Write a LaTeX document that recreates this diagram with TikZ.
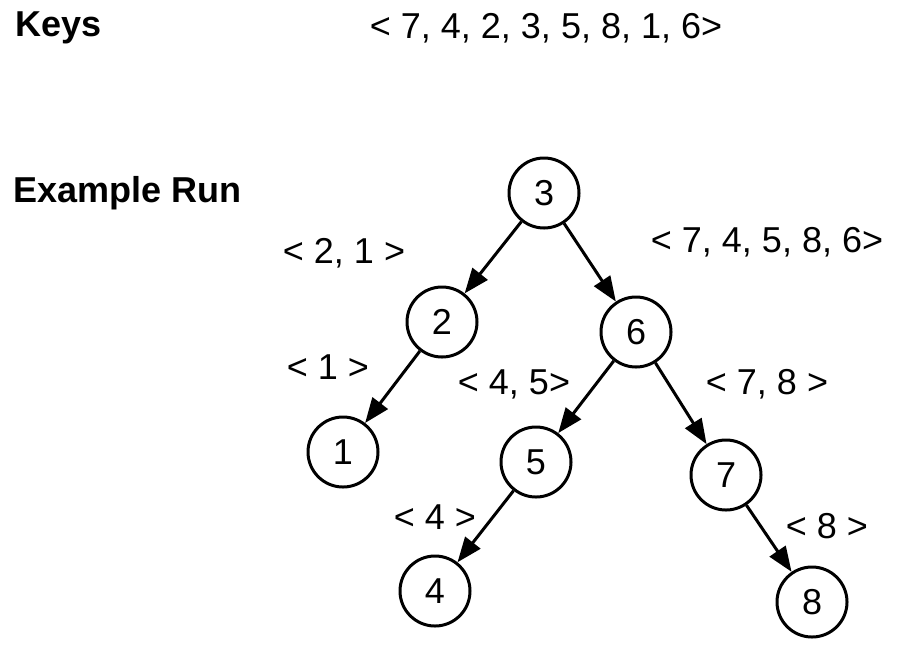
\documentclass[tikz,border=0pt]{standalone}
\usepackage{fontspec}
\setmainfont{Liberation Sans}
\usepackage{tikz}
\usetikzlibrary{arrows.meta,positioning}
\tikzset{
  keynode/.style={circle, draw, line width=1.5pt, minimum size=35pt, inner sep=0pt, font=\fontsize{18}{21}\selectfont},
  sublist/.style={inner sep=0pt, font=\fontsize{18}{21}\selectfont},
  heading/.style={inner sep=0pt, anchor=west, font=\fontsize{18}{21}\selectfont\bfseries},
  link/.style={-{Triangle[length=12.5pt, width=9.5pt]}, line width=1.5pt}
}

\begin{document}
\begin{tikzpicture}[x=0.5pt, y=-0.5pt]
        \useasboundingbox (0,0) rectangle (898,644);

        % headings and input
        \node[heading] (keys) at (15,28) {Keys};
        \node[sublist] (input) at (546,28) {< 7, 4, 2, 3, 5, 8, 1, 6>};
        \node[heading] (run) at (13,193) {Example Run};

        % tree
        \node[keynode] (n3) at (544,193) {3};
        \node[keynode] (n2) at (442,322) {2};
        \node[keynode] (n6) at (636,332) {6};
        \node[keynode] (n1) at (343,452) {1};
        \node[keynode] (n5) at (536,462) {5};
        \node[keynode] (n7) at (726,475) {7};
        \node[keynode] (n4) at (435,591) {4};
        \node[keynode] (n8) at (812,602) {8};

        \draw[link] (n3) -- (n2);
        \draw[link] (n3) -- (n6);
        \draw[link] (n2) -- (n1);
        \draw[link] (n6) -- (n5);
        \draw[link] (n6) -- (n7);
        \draw[link] (n5) -- (n4);
        \draw[link] (n7) -- (n8);

        % remaining keys per subtree
        \node[sublist] (l2) at (344,253) {< 2, 1 >};
        \node[sublist] (l6) at (767,242) {< 7, 4, 5, 8, 6>};
        \node[sublist] (l1) at (328,367) {< 1 >};
        \node[sublist] (l5) at (514,384) {< 4, 5>};
        \node[sublist] (l7) at (767,384) {< 7, 8 >};
        \node[sublist] (l4) at (435,517) {< 4 >};
        \node[sublist] (l8) at (827,526) {< 8 >};
      \end{tikzpicture}
\end{document}
